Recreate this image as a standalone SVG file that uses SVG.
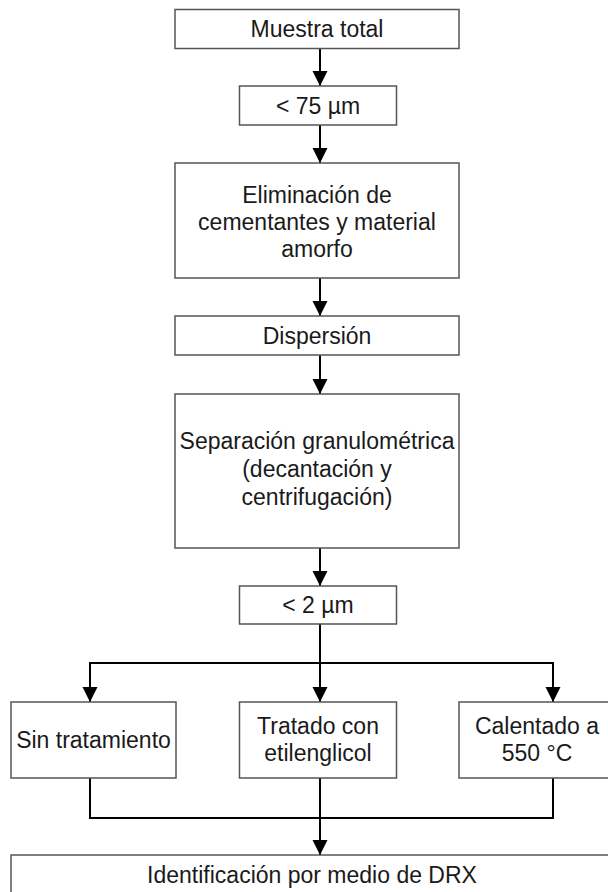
<svg xmlns="http://www.w3.org/2000/svg" width="608" height="892" viewBox="0 0 608 892">
<style>
.box{fill:#fff;stroke:#555;stroke-width:1.5}
.t{font-family:"Liberation Sans",Arial,sans-serif;font-size:23px;fill:#1a1a1a;text-anchor:middle}
.c{fill:none;stroke:#000;stroke-width:2}
</style>
<defs>
<marker id="ah" markerUnits="userSpaceOnUse" markerWidth="16" markerHeight="16" viewBox="0 0 16 16" refX="15" refY="8" orient="auto">
<path d="M0,0.5 L15,8 L0,15.5 Z" fill="#000"/>
</marker>
</defs>
<rect width="608" height="892" fill="#fff"/>
<g id="connectors">
<path class="c" d="M320,48 V86" marker-end="url(#ah)"/>
<path class="c" d="M320,125 V163" marker-end="url(#ah)"/>
<path class="c" d="M320,278 V316" marker-end="url(#ah)"/>
<path class="c" d="M320,355 V394" marker-end="url(#ah)"/>
<path class="c" d="M320,548 V586" marker-end="url(#ah)"/>
<path class="c" d="M320,624 V702" marker-end="url(#ah)"/>
<path class="c" d="M90,702 V663 H553 V702"/>
<path class="c" d="M90,663 V702" marker-end="url(#ah)"/>
<path class="c" d="M553,663 V702" marker-end="url(#ah)"/>
<path class="c" d="M90,778 V818 H553 V778"/>
<path class="c" d="M320,778 V818"/>
<path class="c" d="M320,818 V855" marker-end="url(#ah)"/>
</g>
<g id="n1"><rect class="box" x="175" y="9.5" width="284" height="39"/><text class="t" x="317" y="37">Muestra total</text></g>
<g id="n2"><rect class="box" x="239.5" y="86" width="157" height="39"/><text class="t" x="318" y="113.5">&lt; 75 µm</text></g>
<g id="n3"><rect class="box" x="175" y="163" width="284" height="115"/>
<text class="t" x="317" y="203">Eliminación de</text>
<text class="t" x="317" y="230">cementantes y material</text>
<text class="t" x="317" y="257">amorfo</text></g>
<g id="n4"><rect class="box" x="175" y="316" width="284" height="39"/><text class="t" x="317" y="343.5">Dispersión</text></g>
<g id="n5"><rect class="box" x="175" y="394" width="284" height="154"/>
<text class="t" x="317" y="449">Separación granulométrica</text>
<text class="t" x="317" y="477">(decantación y</text>
<text class="t" x="317" y="505">centrifugación)</text></g>
<g id="n6"><rect class="box" x="239.5" y="586" width="157" height="38"/><text class="t" x="318" y="613">&lt; 2 µm</text></g>
<g id="n7"><rect class="box" x="11" y="702" width="165" height="76"/><text class="t" x="93.5" y="748">Sin tratamiento</text></g>
<g id="n8"><rect class="box" x="239.5" y="702" width="157" height="76"/>
<text class="t" x="318" y="734">Tratado con</text>
<text class="t" x="318" y="761">etilenglicol</text></g>
<g id="n9"><rect class="box" x="459" y="702" width="156" height="76"/>
<text class="t" x="537" y="734">Calentado a</text>
<text class="t" x="537" y="761">550 °C</text></g>
<g id="n10"><rect class="box" x="11" y="855" width="602" height="60"/><text class="t" x="312" y="883">Identificación por medio de DRX</text></g>
</svg>
